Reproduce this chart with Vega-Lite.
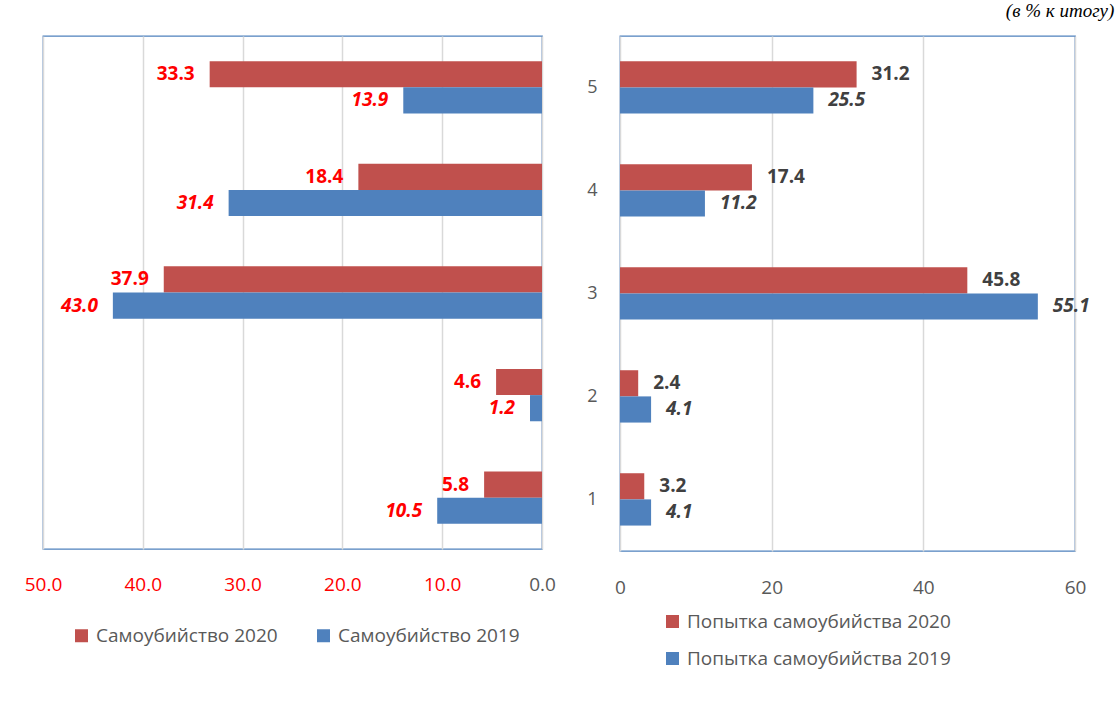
{
  "$schema": "https://vega.github.io/schema/vega-lite/v6.json",
  "background": "white",
  "padding": {"left": 23, "top": 2, "right": 5, "bottom": 0},
  "title": {"text": "(в % к итогу)", "anchor": "end", "font": "Liberation Serif", "fontStyle": "italic", "fontWeight": "normal", "fontSize": 19, "color": "#000000", "offset": 14, "dx": 24},
  "datasets": {
    "suicide": [
      {"cat": "5", "year": "2020", "series": "Самоубийство 2020", "value": 33.3},
      {"cat": "5", "year": "2019", "series": "Самоубийство 2019", "value": 13.9},
      {"cat": "4", "year": "2020", "series": "Самоубийство 2020", "value": 18.4},
      {"cat": "4", "year": "2019", "series": "Самоубийство 2019", "value": 31.4},
      {"cat": "3", "year": "2020", "series": "Самоубийство 2020", "value": 37.9},
      {"cat": "3", "year": "2019", "series": "Самоубийство 2019", "value": 43.0},
      {"cat": "2", "year": "2020", "series": "Самоубийство 2020", "value": 4.6},
      {"cat": "2", "year": "2019", "series": "Самоубийство 2019", "value": 1.2},
      {"cat": "1", "year": "2020", "series": "Самоубийство 2020", "value": 5.8},
      {"cat": "1", "year": "2019", "series": "Самоубийство 2019", "value": 10.5}
    ],
    "attempt": [
      {"cat": "5", "year": "2020", "series": "Попытка самоубийства 2020", "value": 31.2},
      {"cat": "5", "year": "2019", "series": "Попытка самоубийства 2019", "value": 25.5},
      {"cat": "4", "year": "2020", "series": "Попытка самоубийства 2020", "value": 17.4},
      {"cat": "4", "year": "2019", "series": "Попытка самоубийства 2019", "value": 11.2},
      {"cat": "3", "year": "2020", "series": "Попытка самоубийства 2020", "value": 45.8},
      {"cat": "3", "year": "2019", "series": "Попытка самоубийства 2019", "value": 55.1},
      {"cat": "2", "year": "2020", "series": "Попытка самоубийства 2020", "value": 2.4},
      {"cat": "2", "year": "2019", "series": "Попытка самоубийства 2019", "value": 4.1},
      {"cat": "1", "year": "2020", "series": "Попытка самоубийства 2020", "value": 3.2},
      {"cat": "1", "year": "2019", "series": "Попытка самоубийства 2019", "value": 4.1}
    ]
  },
  "spacing": 29,
  "resolve": {"scale": {"color": "independent"}, "legend": {"color": "independent"}},
  "hconcat": [
    {
      "width": 499,
      "height": 513,
      "data": {"name": "suicide"},
      "encoding": {
        "y": {"field": "cat", "type": "nominal", "sort": "descending", "axis": null, "scale": {"paddingInner": 0.49, "paddingOuter": 0.245}},
        "yOffset": {"field": "year", "type": "nominal", "sort": "descending", "scale": {"paddingInner": 0, "paddingOuter": 0}},
        "x": {
          "field": "value", "type": "quantitative",
          "scale": {"domain": [0, 50], "reverse": true, "nice": false},
          "axis": {
            "title": null, "values": [0, 10, 20, 30, 40, 50], "format": ".1f", "labelFlush": false,
            "labelColor": {"condition": {"test": "datum.value === 0", "value": "#595959"}, "value": "#FF0000"},
            "labelFontSize": 19, "labelPadding": 26, "ticks": false, "domain": false,
            "grid": true, "gridColor": "#D9D9D9", "gridWidth": 1.5, "labelFont": "Open Sans"
          }
        }
      },
      "layer": [
        {
          "mark": {"type": "bar"},
          "encoding": {
            "color": {
              "field": "series", "type": "nominal",
              "scale": {"domain": ["Самоубийство 2020", "Самоубийство 2019"], "range": ["#C0504D", "#4F81BD"]},
              "legend": {"orient": "none", "legendX": 29, "legendY": 590, "direction": "horizontal", "title": null,
                "symbolType": "square", "symbolSize": 169, "symbolStrokeWidth": 0, "labelFontSize": 19, "labelFont": "Open Sans",
                "labelColor": "#595959", "columnPadding": 36, "labelOffset": 5, "padding": 0, "labelLimit": 400}
            }
          }
        },
        {
          "transform": [{"filter": "datum.year == '2020'"}],
          "mark": {"type": "text", "align": "right", "baseline": "middle", "dx": -15, "font": "Open Sans", "fontWeight": "bold", "fontSize": 19, "color": "#FF0000"},
          "encoding": {"text": {"field": "value", "type": "quantitative", "format": ".1f"}}
        },
        {
          "transform": [{"filter": "datum.year == '2019'"}],
          "mark": {"type": "text", "align": "right", "baseline": "middle", "dx": -15, "font": "Open Sans", "fontWeight": "bold", "fontStyle": "italic", "fontSize": 19, "color": "#FF0000"},
          "encoding": {"text": {"field": "value", "type": "quantitative", "format": ".1f"}}
        }
      ]
    },
    {
      "width": 455,
      "height": 515,
      "data": {"name": "attempt"},
      "encoding": {
        "y": {"field": "cat", "type": "nominal", "sort": "descending", "scale": {"paddingInner": 0.49, "paddingOuter": 0.245},
          "axis": {"title": null, "labelFontSize": 18, "labelColor": "#595959", "ticks": false, "domain": false, "labelPadding": 23, "labelFont": "Open Sans"}},
        "yOffset": {"field": "year", "type": "nominal", "sort": "descending", "scale": {"paddingInner": 0, "paddingOuter": 0}},
        "x": {
          "field": "value", "type": "quantitative",
          "scale": {"domain": [0, 60], "nice": false},
          "axis": {
            "title": null, "values": [0, 20, 40, 60], "labelFlush": false,
            "labelColor": "#595959",
            "labelFontSize": 19, "labelPadding": 27, "ticks": false, "domain": false,
            "grid": true, "gridColor": "#D9D9D9", "gridWidth": 1.5, "labelFont": "Open Sans"
          }
        }
      },
      "layer": [
        {
          "mark": {"type": "bar"},
          "encoding": {
            "color": {
              "field": "series", "type": "nominal",
              "scale": {"domain": ["Попытка самоубийства 2020", "Попытка самоубийства 2019"], "range": ["#C0504D", "#4F81BD"]},
              "legend": {"orient": "none", "legendX": 43, "legendY": 576, "direction": "vertical", "title": null,
                "symbolType": "square", "symbolSize": 169, "symbolStrokeWidth": 0, "labelFontSize": 19, "labelFont": "Open Sans",
                "labelColor": "#595959", "rowPadding": 17, "labelOffset": 5, "padding": 0, "labelLimit": 400}
            }
          }
        },
        {
          "transform": [{"filter": "datum.year == '2020'"}],
          "mark": {"type": "text", "align": "left", "baseline": "middle", "dx": 15, "font": "Open Sans", "fontWeight": "bold", "fontSize": 19, "color": "#404040"},
          "encoding": {"text": {"field": "value", "type": "quantitative", "format": ".1f"}}
        },
        {
          "transform": [{"filter": "datum.year == '2019'"}],
          "mark": {"type": "text", "align": "left", "baseline": "middle", "dx": 15, "font": "Open Sans", "fontWeight": "bold", "fontStyle": "italic", "fontSize": 19, "color": "#404040"},
          "encoding": {"text": {"field": "value", "type": "quantitative", "format": ".1f"}}
        }
      ]
    }
  ],
  "config": {
    "view": {"stroke": "#4F81BD", "strokeWidth": 1.3},
    "font": "Open Sans"
  }
}
